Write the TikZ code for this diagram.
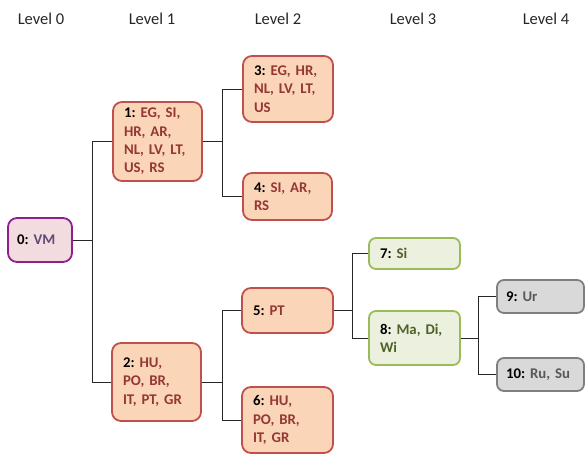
\documentclass[tikz,border=0pt]{standalone}
\usepackage{fontspec}
\setmainfont{Carlito}
\frenchspacing
\definecolor{ofill}{HTML}{FBD5B8}
\definecolor{oline}{HTML}{C0504D}
\definecolor{otext}{HTML}{953735}
\definecolor{pfill}{HTML}{F2DCE0}
\definecolor{pline}{HTML}{8E1F90}
\definecolor{ptext}{HTML}{60497A}
\definecolor{gfill}{HTML}{EBF1DE}
\definecolor{gline}{HTML}{9BBB59}
\definecolor{gtext}{HTML}{4F6228}
\definecolor{yfill}{HTML}{D9D9D9}
\definecolor{yline}{HTML}{7F7F7F}
\definecolor{ytext}{HTML}{595959}
\tikzset{
  box/.style={draw, line width=1.8pt, rounded corners=9pt, inner xsep=0pt, inner ysep=0pt,
    align=left, font=\fontsize{14.8}{18.3}\selectfont\bfseries\frenchspacing, anchor=center},
  obox/.style={box, fill=ofill, draw=oline, text=otext},
  pbox/.style={box, fill=pfill, draw=pline, text=ptext},
  gbox/.style={box, fill=gfill, draw=gline, text=gtext, rounded corners=7pt},
  ybox/.style={box, fill=yfill, draw=yline, text=ytext, rounded corners=7pt},
  lvl/.style={font=\fontsize{16.5}{18}\selectfont, text=black!85},
  conn/.style={draw=black!85, line width=0.9pt},
}
\newcommand{\nb}[1]{\textcolor{black}{#1:}}
\begin{document}
\begin{tikzpicture}[x=1pt,y=-1pt]
\useasboundingbox (0,0) rectangle (586,454);
\node[lvl] (l0) at (41,19) {Level 0};
\node[lvl] (l1) at (152,19) {Level 1};
\node[lvl] (l2) at (278,19) {Level 2};
\node[lvl] (l3) at (413,19) {Level 3};
\node[lvl] (l4) at (546,19) {Level 4};

\node[pbox, minimum width=64pt, minimum height=44pt, text width=46pt] (n0) at (40,240) {\nb{0} VM};
\node[obox, minimum width=89pt, minimum height=79pt, text width=67pt] (n1) at (157.5,141.5) {\nb{1} EG, SI,\\HR, AR,\\NL, LV, LT,\\US, RS};
\node[obox, minimum width=89pt, minimum height=78pt, text width=67pt] (n2) at (156.5,382) {\nb{2} HU,\\PO, BR,\\IT, PT, GR};
\node[obox, minimum width=90pt, minimum height=66pt, text width=68pt] (n3) at (288,89) {\nb{3} EG, HR,\\NL, LV, LT,\\US};
\node[obox, minimum width=89pt, minimum height=47pt, text width=67pt] (n4) at (287.5,196.5) {\nb{4} SI, AR,\\RS};
\node[obox, minimum width=91pt, minimum height=45pt, text width=69pt] (n5) at (287.5,310.5) {\nb{5} PT};
\node[obox, minimum width=91pt, minimum height=66pt, text width=69pt] (n6) at (287.5,420) {\nb{6} HU,\\PO, BR,\\IT, GR};
\node[gbox, minimum width=91pt, minimum height=31pt, text width=69pt] (n7) at (414.5,253.5) {\nb{7} Si};
\node[gbox, minimum width=91pt, minimum height=54pt, text width=69pt] (n8) at (414.5,338) {\nb{8} Ma, Di,\\Wi};
\node[ybox, minimum width=87pt, minimum height=33pt, text width=69pt] (n9) at (540.5,296.5) {\nb{9} Ur};
\node[ybox, minimum width=87pt, minimum height=33pt, text width=69pt] (n10) at (540.5,374.5) {\nb{10} Ru, Su};

\draw[conn] (n0.east) -- ++(20,0) |- (n1.west);
\draw[conn] (n0.east) -- ++(20,0) |- (n2.west);
\draw[conn] (n1.east) -- ++(20,0) |- (n3.west);
\draw[conn] (n1.east) -- ++(20,0) |- (n4.west);
\draw[conn] (n2.east) -- ++(21,0) |- (n5.west);
\draw[conn] (n2.east) -- ++(21,0) |- (n6.west);
\draw[conn] (n5.east) -- ++(19,0) |- (n7.west);
\draw[conn] (n5.east) -- ++(19,0) |- (n8.west);
\draw[conn] (n8.east) -- ++(18,0) |- (n9.west);
\draw[conn] (n8.east) -- ++(18,0) |- (n10.west);
\end{tikzpicture}
\end{document}
